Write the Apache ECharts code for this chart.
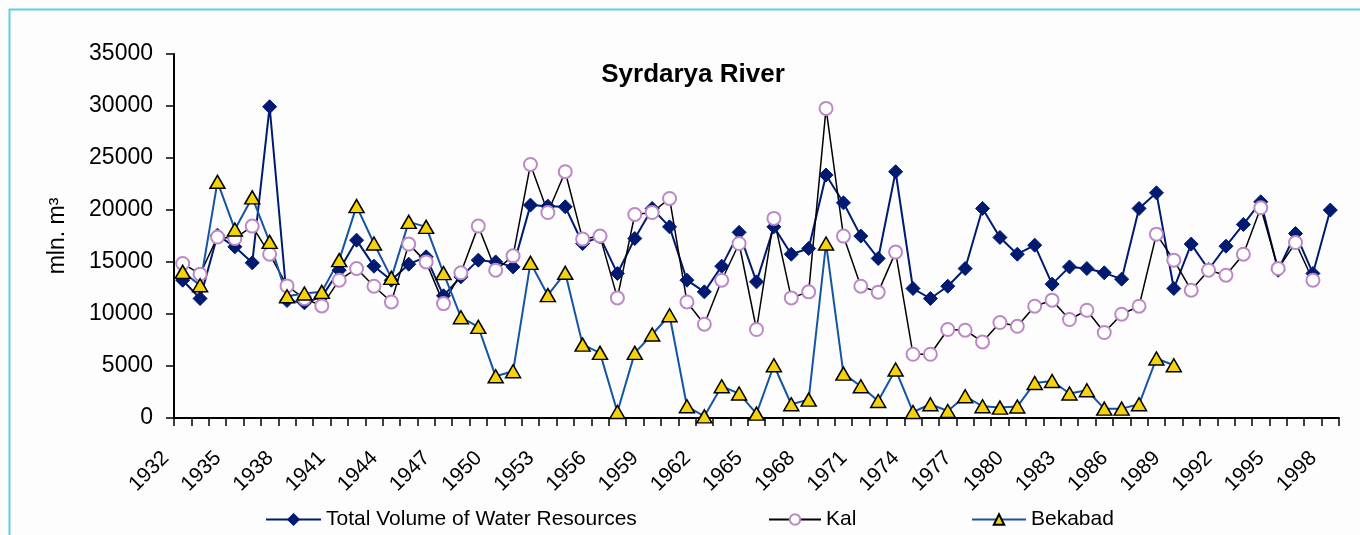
<!DOCTYPE html>
<html>
<head>
<meta charset="utf-8">
<script src="https://cdn.jsdelivr.net/npm/echarts@6/dist/echarts.min.js"></script>
<style>html,body{margin:0;padding:0;background:#fff;}#c{width:1360px;height:535px;}</style>
</head>
<body>
<div id="c"></div>
<script>
const years = ['1932','1933','1934','1935','1936','1937','1938','1939','1940','1941','1942','1943','1944','1945','1946','1947','1948','1949','1950','1951','1952','1953','1954','1955','1956','1957','1958','1959','1960','1961','1962','1963','1964','1965','1966','1967','1968','1969','1970','1971','1972','1973','1974','1975','1976','1977','1978','1979','1980','1981','1982','1983','1984','1985','1986','1987','1988','1989','1990','1991','1992','1993','1994','1995','1996','1997','1998'];
const totalVolume = [13250,11490,17580,16460,14920,29930,11300,11070,11650,14210,17100,14600,13250,14790,15500,11750,13570,15180,15010,14530,20470,20370,20310,16780,17420,13900,17260,20150,18380,13250,12130,14600,17850,13090,18380,15750,16300,23360,20690,17490,15340,23680,12450,11490,12670,14370,20150,17360,15750,16620,12870,14530,14370,13960,13350,20150,21650,12450,16720,14280,16520,18610,20790,14210,17740,13900,19990];
const kal = [14860,13830,17400,17260,18450,15750,12700,11490,10780,13250,14370,12670,11160,16720,15010,11000,13960,18450,14210,15590,24380,19760,23680,17200,17490,11550,19570,19760,21110,11160,9020,13250,16780,8510,19190,11550,12130,29770,17490,12670,12100,15950,6130,6130,8510,8440,7310,9180,8820,10750,11330,9470,10360,8220,9980,10750,17680,15180,12290,14210,13730,15750,20210,14370,16870,13250,null];
const bekabad = [14050,12770,22710,18130,21210,16940,11710,11970,12130,15180,20370,16780,13470,18860,18380,13930,9690,8760,4010,4490,14920,11810,13960,7060,6260,580,6260,8030,9880,1130,160,3050,2350,420,5070,1320,1770,16780,4270,3050,1640,4660,580,1320,670,2090,1130,1000,1100,3370,3560,2350,2670,900,900,1320,5720,5070,null,null,null,null,null,null,null,null,null];
const yTicks = [0,5000,10000,15000,20000,25000,30000,35000];

const FONT = "'Liberation Sans', Arial, sans-serif";
const chart = echarts.init(document.getElementById('c'), null, {renderer:'canvas'});
const legendText = {fontSize:21, color:'#000', fontFamily:FONT};
chart.setOption({
  backgroundColor:'#fdfdfd',
  animation:false,
  title:{text:'Syrdarya River', left:688, top:57, textAlign:'center',
    textStyle:{fontSize:26, fontWeight:'bold', color:'#000', fontFamily:FONT}},
  grid:{left:174, right:21, top:54, bottom:117, containLabel:false},
  legend:[
    {data:['Total Volume of Water Resources'], left:260, top:504, itemWidth:55, itemHeight:13, textStyle:legendText, selectedMode:false},
    {data:['Kal'], left:763, top:504, itemWidth:52, itemHeight:13, textStyle:legendText, selectedMode:false},
    {data:['Bekabad'], left:966, top:504, itemWidth:54, itemHeight:13, textStyle:legendText, selectedMode:false}
  ],
  xAxis:{type:'category', data:years, boundaryGap:true,
    axisLine:{lineStyle:{color:'#000', width:2}},
    axisTick:{show:true, length:8, lineStyle:{color:'#000', width:1.5}, interval:0},
    axisLabel:{interval:2, rotate:45, fontSize:21, color:'#000', fontFamily:FONT, margin:20, padding:[0,24,0,0]},
    splitLine:{show:false}},
  yAxis:{type:'value', min:yTicks[0], max:yTicks[yTicks.length-1], interval:yTicks[1]-yTicks[0],
    name:'mln. m³', nameLocation:'middle', nameGap:105,
    nameTextStyle:{fontSize:23, color:'#000', fontFamily:FONT},
    axisLine:{show:true, lineStyle:{color:'#000', width:2}},
    axisTick:{show:true, length:8, lineStyle:{color:'#000', width:1.5}},
    axisLabel:{fontSize:23, color:'#000', fontFamily:FONT, margin:21, formatter:function(v){return String(v);}},
    splitLine:{show:false}},
  series:[
    {name:'Total Volume of Water Resources', type:'line', data:totalVolume,
      symbol:'diamond', symbolSize:14, showAllSymbol:true,
      lineStyle:{color:'#001a72', width:2},
      itemStyle:{color:'#001a72', borderColor:'#001a72', borderWidth:1}},
    {name:'Kal', type:'line', data:kal,
      symbol:'circle', symbolSize:13, showAllSymbol:true,
      lineStyle:{color:'#000', width:1.5},
      itemStyle:{color:'#ffffff', borderColor:'#bd88c6', borderWidth:2}},
    {name:'Bekabad', type:'line', data:bekabad,
      symbol:'triangle', symbolSize:[15,13], showAllSymbol:true,
      lineStyle:{color:'#1454a4', width:2},
      itemStyle:{color:'#f5d20a', borderColor:'#000', borderWidth:1.5}}
  ],
  graphic:[
    {type:'rect', shape:{x:9.5, y:9.5, width:1400, height:600}, silent:true, z:-1,
      style:{fill:null, stroke:'#5fcde8', lineWidth:2}}
  ]
});
</script>
</body>
</html>
